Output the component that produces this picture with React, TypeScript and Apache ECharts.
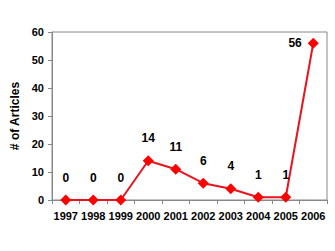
import React, { useEffect, useRef } from "react";
import * as echarts from "echarts";

const years = ["1997", "1998", "1999", "2000", "2001", "2002", "2003", "2004", "2005", "2006"];
const articles = [0, 0, 0, 14, 11, 6, 4, 1, 1, 56];
const yTitle = "# of Articles";

export default function App() {
  const ref = useRef<HTMLDivElement>(null);
  useEffect(() => {
    const chart = echarts.init(ref.current!, null, { renderer: "svg" });
    const font = "Arial, 'Liberation Sans', sans-serif";
    chart.setOption({
      animation: false,
      backgroundColor: "#ffffff",
      grid: { left: 52, top: 32, right: 8, bottom: 51, show: true, borderColor: "#888", borderWidth: 1 },
      xAxis: {
        type: "category",
        data: years,
        boundaryGap: true,
        axisLine: { lineStyle: { color: "#888", width: 1 } },
        axisTick: { show: true, inside: false, length: 4, lineStyle: { color: "#888" } },
        axisLabel: { color: "#000", fontWeight: "bold", fontSize: 11, fontFamily: font, margin: 10, interval: 0 },
      },
      yAxis: {
        type: "value",
        min: 0,
        max: 60,
        interval: 10,
        name: yTitle,
        nameLocation: "middle",
        nameGap: 25,
        nameTextStyle: { color: "#000", fontWeight: "bold", fontSize: 12, fontFamily: font },
        axisLine: { show: true, lineStyle: { color: "#888", width: 1 } },
        axisTick: { show: true, length: 4, lineStyle: { color: "#888" } },
        splitLine: { show: false },
        axisLabel: { color: "#000", fontWeight: "bold", fontSize: 11, fontFamily: font, margin: 8 },
      },
      series: [
        {
          type: "line",
          data: articles.map((v, i) =>
            i === articles.length - 1
              ? { value: v, label: { position: "left", distance: 6 } }
              : { value: v }
          ),
          symbol: "diamond",
          symbolSize: 11,
          lineStyle: { color: "#e8141e", width: 2 },
          itemStyle: { color: "#ff0000" },
          label: {
            show: true,
            position: "top",
            distance: 11,
            color: "#000",
            fontWeight: "bold",
            fontSize: 12,
            fontFamily: font,
          },
        },
      ],
    });
    return () => chart.dispose();
  }, []);
  return <div ref={ref} style={{ width: 335, height: 251, position: "absolute", left: 0, top: 0 }} />;
}
